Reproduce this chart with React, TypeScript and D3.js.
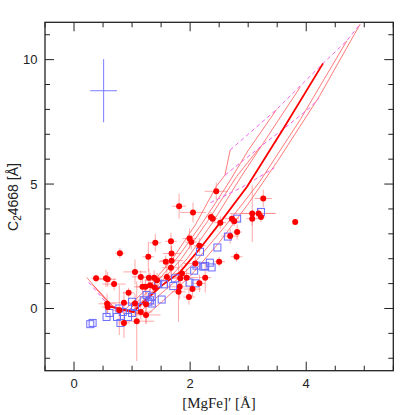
import React from "react";
import * as d3 from "d3";

// ---- data ----
const redX = [0.38,0.55,0.58,0.69,0.79,0.57,0.58,0.94,0.86,0.78,0.86,1.05,1.05,1.08,1.15,1.15,1.18,1.23,1.24,1.28,1.29,1.31,1.24,1.38,1.40,1.43,1.39,1.58,1.60,1.67,1.68,1.68,1.67,1.81,1.86,1.83,1.82,1.80,1.94,1.99,2.02,1.98,2.05,2.04,2.09,2.16,2.16,2.26,2.36,2.39,2.45,2.52,2.50,2.69,2.72,2.76,2.81,2.80,3.07,3.07,3.18,3.22,3.26,3.81];
const redY = [1.21,1.21,1.17,0.98,2.22,0.19,0.06,0.63,0.23,-0.07,-0.58,1.47,0.2,-0.51,1.27,-0.14,0.87,0.87,-0.26,2.08,1.24,0.93,0.17,1.24,2.64,1.13,0.84,1.88,1.27,2.70,2.21,1.92,1.64,4.11,1.41,1.21,0.87,0.67,1.24,2.81,2.67,0.46,3.86,0.78,1.81,1.01,2.52,1.24,3.68,3.61,4.71,3.45,1.88,2.91,3.61,3.51,3.07,2.08,3.82,3.61,3.82,3.68,4.42,3.48];
const redXErr = [0.08,0.1,0.15,0.2,0.08,0.15,0.1,0.1,0.3,0.12,0.1,0.2,0.15,0.3,0.15,0.2,0.12,0.2,0.25,0.1,0.15,0.15,0.15,0.12,0.1,0.2,0.15,0.12,0.2,0.1,0.15,0.2,0.15,0.12,0.15,0.2,0.2,0.12,0.2,0.12,0.1,0.1,0.22,0.15,0.2,0.1,0.1,0.1,0.08,0.08,0.2,0.1,0.1,0.15,0.12,0.1,0.08,0.1,0.39,0.1,0.3,0.08,0.15,0];
const redYErr = [0.15,0.35,0.3,0.25,0.2,0.4,0.25,0.2,0.45,1.0,0.6,0.5,0.4,1.6,0.25,0.3,0.3,0.3,0.35,0.6,0.35,0.5,0.8,0.3,0.35,0.3,0.4,0.25,0.5,0.35,0.3,0.6,0.35,0.5,0.3,0.35,0.5,1.2,0.35,0.4,0.3,0.3,0.4,0.3,0.3,0.35,0.3,0.6,0.2,0.2,0.35,0.25,0.2,0.3,0.2,0.2,0.3,0.2,1.15,0.3,0.2,0.2,0.35,0];

const blueX = [0.28,0.32,0.56,0.61,0.74,0.78,0.80,0.84,0.93,1.00,1.00,1.05,1.20,1.25,1.31,1.34,1.51,1.45,1.55,1.71,1.74,1.99,2.09,2.07,2.11,2.17,2.23,2.26,2.34,2.37,2.47,2.65,2.81,3.22,1.28,1.34];
const blueY = [-0.63,-0.58,-0.34,-0.18,-0.34,0.0,-0.58,-0.14,-0.34,0.27,-0.18,0.06,0.33,0.54,0.33,0.47,0.36,1.00,0.97,0.9,1.21,1.04,1.01,1.52,1.72,2.28,1.68,1.71,1.84,1.65,2.45,2.89,3.61,3.88,0.27,0.20];

// model grid: solid lines (thin), thick line, dashed lines
const modelThin: [number, number][][] = [
  [[0.22,1.25],[0.65,0.05],[0.9,0.0],[1.3,0.9],[1.7,2.0],[2.1,3.4],[2.45,4.9],[2.60,5.36],[2.69,6.37]],
  [[0.3,1.0],[0.68,0.05],[0.95,-0.05],[1.35,0.85],[1.8,2.1],[2.2,3.4],[2.65,5.0],[3.0,6.35],[3.49,8.0]],
  [[0.35,0.9],[0.7,0.0],[1.0,-0.1],[1.4,0.8],[1.85,2.0],[2.3,3.5],[2.8,5.3],[3.2,6.48]],
  [[0.4,0.75],[0.72,-0.02],[1.02,-0.12],[1.45,0.75],[1.95,2.0],[2.4,3.5],[2.88,5.3],[3.9,8.91]],
  [[0.8,-0.05],[1.1,-0.2],[1.35,0.3],[1.7,1.0],[2.1,1.9],[2.6,3.3],[3.2,5.1],[3.9,7.6],[4.70,10.76]],
  [[0.9,-0.1],[1.25,-0.27],[1.6,0.45],[2.0,1.3],[2.5,2.65],[3.0,4.2],[3.5,5.9],[4.22,8.5],[4.93,11.43]],
];
const modelThick: [number, number][] = [[0.62,0.07],[1.02,-0.14],[1.20,0.27],[1.48,0.87],[1.83,1.47],[2.17,2.41],[2.46,3.28],[2.98,4.89],[3.6,7.2],[4.29,9.85]];
const modelDashed: [number, number][][] = [
  [[2.69,6.37],[3.49,8.0],[4.29,9.85],[4.70,10.76],[4.93,11.43]],
  [[2.60,5.36],[3.32,6.70],[3.6,7.2],[4.07,8.08],[4.22,8.45]],
  [[2.35,4.25],[2.91,4.89],[3.45,5.65]],
  [[0.25,1.05],[0.55,0.25],[0.8,-0.05]],
];

const errCross = { x: 0.51, y: 8.75, xe: 0.23, ye: 1.27 };

const xMajor = [0, 2, 4];
const yMajor = [0, 5, 10];

export default function App() {
  const W = 415, H = 415;
  const L = 45, R = 393.3, T = 22.3, B = 370.7;
  const x = d3.scaleLinear().domain([-0.5, 5.5]).range([L, R]);
  const y = d3.scaleLinear().domain([-2.5, 11.5]).range([B, T]);
  const line = d3.line<[number, number]>().x(d => x(d[0])).y(d => y(d[1]));

  const xMinor = d3.range(-0.5, 5.51, 0.5).filter(v => !xMajor.includes(v));
  const yMinor = d3.range(-2, 11.01, 1).filter(v => !yMajor.includes(v));
  const majLen = 9, minLen = 5;
  const axisColor = "#222";

  return (
    <svg width={W} height={H} style={{ position: "absolute", left: 0, top: 0, background: "#fff" }}>
      <defs>
        <clipPath id="plot">
          <rect x={L} y={T} width={R - L} height={B - T} />
        </clipPath>
      </defs>
      <g clipPath="url(#plot)">
        {/* error bars */}
        {redX.map((vx, i) => (
          <g key={"e" + i} stroke="#ff7070" strokeOpacity={0.6} strokeWidth={1}>
            {redXErr[i] > 0 && <line x1={x(vx - redXErr[i])} x2={x(vx + redXErr[i])} y1={y(redY[i])} y2={y(redY[i])} />}
            {redYErr[i] > 0 && <line x1={x(vx)} x2={x(vx)} y1={y(redY[i] - redYErr[i])} y2={y(redY[i] + redYErr[i])} />}
          </g>
        ))}
        {/* model grid */}
        {modelThin.map((pts, i) => (
          <path key={"t" + i} d={line(pts) || ""} fill="none" stroke="#ff6b6b" strokeWidth={0.9} />
        ))}
        {modelDashed.map((pts, i) => (
          <path key={"d" + i} d={line(pts) || ""} fill="none" stroke="#ee66ee" strokeWidth={1} strokeDasharray="4,3" />
        ))}
        <path d={line(modelThick) || ""} fill="none" stroke="#ff0000" strokeWidth={1.8} />
        {/* blue squares */}
        {blueX.map((vx, i) => (
          <rect key={"b" + i} x={x(vx) - 3.5} y={y(blueY[i]) - 3.5} width={7} height={7} fill="none" stroke="#6a6aff" strokeWidth={1} />
        ))}
        {/* red dots */}
        {redX.map((vx, i) => (
          <circle key={"r" + i} cx={x(vx)} cy={y(redY[i])} r={3} fill="#ff0000" />
        ))}
        {/* typical error cross */}
        <g stroke="#7b7bff" strokeWidth={1}>
          <line x1={x(errCross.x - errCross.xe)} x2={x(errCross.x + errCross.xe)} y1={y(errCross.y)} y2={y(errCross.y)} />
          <line x1={x(errCross.x)} x2={x(errCross.x)} y1={y(errCross.y - errCross.ye)} y2={y(errCross.y + errCross.ye)} />
        </g>
      </g>
      {/* frame */}
      <rect x={L} y={T} width={R - L} height={B - T} fill="none" stroke={axisColor} strokeWidth={1.3} />
      {/* ticks */}
      <g stroke={axisColor} strokeWidth={1}>
        {xMajor.map(v => (
          <g key={"xm" + v}>
            <line x1={x(v)} x2={x(v)} y1={B} y2={B - majLen} />
            <line x1={x(v)} x2={x(v)} y1={T} y2={T + majLen} />
          </g>
        ))}
        {xMinor.map(v => (
          <g key={"xn" + v}>
            <line x1={x(v)} x2={x(v)} y1={B} y2={B - minLen} />
            <line x1={x(v)} x2={x(v)} y1={T} y2={T + minLen} />
          </g>
        ))}
        {yMajor.map(v => (
          <g key={"ym" + v}>
            <line x1={L} x2={L + majLen} y1={y(v)} y2={y(v)} />
            <line x1={R} x2={R - majLen} y1={y(v)} y2={y(v)} />
          </g>
        ))}
        {yMinor.map(v => (
          <g key={"yn" + v}>
            <line x1={L} x2={L + minLen} y1={y(v)} y2={y(v)} />
            <line x1={R} x2={R - minLen} y1={y(v)} y2={y(v)} />
          </g>
        ))}
      </g>
      {/* tick labels */}
      <g fontFamily="'Liberation Sans', Arial, sans-serif" fontSize={13} fill="#222">
        {xMajor.map(v => (
          <text key={"xl" + v} x={x(v)} y={388} textAnchor="middle">{v}</text>
        ))}
        {yMajor.map(v => (
          <text key={"yl" + v} x={37.5} y={y(v) + 4.7} textAnchor="end">{v}</text>
        ))}
      </g>
      {/* axis titles */}
      <text x={219} y={408} textAnchor="middle" fontFamily="'Liberation Serif', 'Times New Roman', serif" fontSize={15} fill="#222">[MgFe]′ [Å]</text>
      <text transform="translate(18,197) rotate(-90)" textAnchor="middle" fontFamily="'Liberation Sans', Arial, sans-serif" fontSize={14} fill="#222">
        C<tspan dy={3} fontSize={10}>2</tspan><tspan dy={-3}>4668 [Å]</tspan>
      </text>
    </svg>
  );
}
